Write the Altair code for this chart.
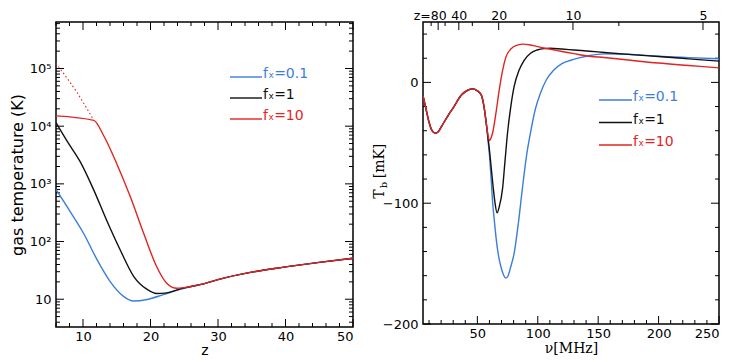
import altair as alt
import pandas as pd

# ---------------- data ----------------
# Left panel: gas temperature (K) versus redshift z
z_fx01 = [6.0, 8.1, 10.1, 12.1, 14.0, 16.0, 17.5, 19.5, 21.9, 24.4, 26.0, 28.0, 30.0, 35.0, 40.0, 45.0, 50.0]
T_fx01 = [800, 331, 138, 48, 20.4, 11.2, 9.3, 9.9, 12.0, 14.8, 16.6, 18.6, 21.9, 29.5, 36.3, 43.6, 51.3]
z_fx1 = [6.0, 7.6, 9.6, 11.6, 13.5, 15.5, 17.5, 19.5, 20.9, 22.4, 24.4, 26.0, 28.0, 30.0, 35.0, 40.0, 45.0, 50.0]
T_fx1 = [11500, 5600, 2400, 780, 234, 72, 25, 14.8, 12.6, 12.9, 15.1, 16.6, 18.6, 21.9, 29.5, 36.3, 43.6, 51.3]
z_fx10 = [6.0, 11.6, 13.05, 15.0, 17.0, 19.0, 20.9, 22.4, 23.9, 26.0, 28.0, 30.0, 35.0, 40.0, 45.0, 50.0]
T_fx10 = [15100, 12600, 6900, 2240, 603, 138, 37, 19, 15.5, 16.6, 18.6, 21.9, 29.5, 36.3, 43.6, 51.3]
z_fx10_dotted = [6.0, 7.6, 9.1, 10.6, 11.6]
T_fx10_dotted = [123000, 69000, 38900, 20000, 12600]

# Right panel: brightness temperature (mK) versus frequency (MHz)
nu_common = [5, 7.5, 10, 12.5, 15, 17.5, 20, 26, 30, 36.8, 42, 46.4, 50, 53.2, 55.5, 57.3]
Tb_common = [-11, -22, -33, -40, -42, -41, -37, -27, -21, -10.5, -6.5, -5.4, -7, -10.3, -20, -33.3]
nu_fx01 = nu_common + [58.7, 60, 61.4, 62.7, 64.1, 66, 67.8, 69.5, 71.5, 73.6, 75.5, 77.5, 80.4, 84, 87.3,
                       90.5, 94, 98, 102.2, 107, 113.1, 120, 126.7, 135, 143, 155, 175, 200, 225, 250]
Tb_fx01 = Tb_common + [-47, -60, -80, -100, -115, -133, -145, -152.6, -159, -162, -160, -153, -141.7, -116, -87.5,
                       -62, -41.5, -22, -8.9, 2, 10, 15.5, 18.1, 20.5, 22.3, 23.6, 23.3, 21.6, 20.5, 19.5]
nu_fx1 = nu_common + [58.7, 60, 61.4, 63, 64.5, 66.3, 68.1, 70.9, 72.8, 75, 77.7, 80.4, 84.5, 88.6, 94, 99.5,
                      105, 110.4, 120, 130, 143, 155, 175, 200, 225, 250]
Tb_fx1 = Tb_common + [-45, -56, -70, -86, -99, -108, -103, -87.5, -66, -41.5, -19.8, -3.5, 10, 18.1, 24.1, 26.8,
                      28, 28.3, 27.6, 26.8, 25.8, 24.8, 23.2, 21.4, 19.5, 17.6]
nu_fx10 = nu_common + [58.7, 60, 61.3, 62.7, 65.4, 68.1, 70.9, 73.6, 77.7, 83.2, 88, 93, 100, 105, 113, 120,
                       130, 143, 155, 175, 200, 225, 250]
Tb_fx10 = Tb_common + [-43, -48.2, -46, -41.5, -25.2, -6.2, 10, 20.9, 27.6, 30.9, 31.7, 31.2, 29.6, 28.5, 27, 25.6,
                       23.8, 21.7, 20.6, 18.5, 16, 14, 12]

series_labels = ["fₓ=0.1", "fₓ=1", "fₓ=10"]
series_colors = ["#3c7ddc", "#111111", "#e3231f"]

# axis ticks and labels
left_z_major = [10, 20, 30, 40, 50]
left_z_minor = [6, 8, 12, 14, 16, 18, 22, 24, 26, 28, 32, 34, 36, 38, 42, 44, 46, 48]
left_T_major = [10, 100, 1000, 10000, 100000]
left_T_texts = ["10", "10²", "10³", "10⁴", "10⁵"]
left_T_minor = [4, 5, 6, 7, 8, 9, 20, 30, 40, 50, 60, 70, 80, 90, 200, 300, 400, 500, 600, 700, 800, 900,
                2000, 3000, 4000, 5000, 6000, 7000, 8000, 9000, 20000, 30000, 40000, 50000, 60000,
                70000, 80000, 90000, 200000, 300000, 400000, 500000, 600000]
right_nu_major = [50, 100, 150, 200, 250]
right_nu_minor = [10, 20, 30, 40, 60, 70, 80, 90, 110, 120, 130, 140, 160, 170, 180, 190,
                  210, 220, 230, 240]
right_Tb_major = [0, -100, -200]
right_Tb_minor = [-180, -160, -140, -120, -80, -60, -40, -20, 20, 40]
top_z_major = [80, 40, 20, 10, 5]
top_z_minor = [120, 60, 30, 15, 7.5]
NU21 = 1420.4  # MHz, nu = NU21 / (1 + z)

# ---------------- layout ----------------
WL, HL = 297, 305
WR, HR = 296, 302
FONT = "DejaVu Sans"
SERIF = "DejaVu Serif"
MAJ, MIN = 8, 4


def xticks(values, xs, H, size, top=False):
    df = pd.DataFrame({"v": values})
    y0 = 0 if top else H
    y1 = size if top else H - size
    return alt.Chart(df).mark_rule(color="black", strokeWidth=1).encode(
        x=alt.X("v:Q", scale=xs, axis=None), y=alt.value(y0), y2=alt.value(y1))


def yticks(values, ys, W, size, right=False):
    df = pd.DataFrame({"v": values})
    x0 = W if right else 0
    x1 = W - size if right else size
    return alt.Chart(df).mark_rule(color="black", strokeWidth=1).encode(
        y=alt.Y("v:Q", scale=ys, axis=None), x=alt.value(x0), x2=alt.value(x1))


def line(x, y, color, xs, ys, dash=None, width=1.4):
    df = pd.DataFrame({"x": x, "y": y})
    kw = dict(color=color, strokeWidth=width, clip=True, interpolate="monotone")
    if dash:
        kw["strokeDash"] = dash
        kw["interpolate"] = "linear"
    return alt.Chart(df).mark_line(**kw).encode(
        x=alt.X("x:Q", scale=xs, axis=None),
        y=alt.Y("y:Q", scale=ys, axis=None),
    )


def legend(x0, x1, y0, dy):
    out = []
    for i, (lab, col) in enumerate(zip(series_labels, series_colors)):
        one = pd.DataFrame({"k": [0]})
        out.append(alt.Chart(one).mark_rule(color=col, strokeWidth=1.4).encode(
            x=alt.value(x0), x2=alt.value(x1), y=alt.value(y0 + i * dy)))
        out.append(alt.Chart(one).mark_text(text=lab, color=col, align="left", baseline="alphabetic",
                                            font=FONT, fontSize=14).encode(
            x=alt.value(x1 + 1), y=alt.value(y0 + i * dy + 1)))
    return out


# ---------------- left panel ----------------
xsL = alt.Scale(domain=[6, 50], nice=False, zero=False)
ysL = alt.Scale(type="log", domain=[3.3, 640000], nice=False)
dfL = pd.DataFrame({"x": z_fx01, "y": T_fx01})

log_expr = " : ".join(f"datum.value == {v} ? '{t}'" for v, t in zip(left_T_major, left_T_texts)) + " : ''"

left_label_layer = alt.Chart(dfL).mark_line(strokeOpacity=0).encode(
    x=alt.X("x:Q", scale=xsL, title="z",
            axis=alt.Axis(orient="bottom", values=left_z_major, ticks=False, labelPadding=3,
                          titlePadding=0, titleFontSize=14)),
    y=alt.Y("y:Q", scale=ysL, title="gas temperature (K)",
            axis=alt.Axis(orient="left", values=left_T_major, ticks=False, labelPadding=5,
                          labelExpr=log_expr, titlePadding=4, titleFontSize=16)),
)

left = alt.layer(
    left_label_layer,
    xticks(left_z_minor, xsL, HL, MIN), xticks(left_z_major, xsL, HL, MAJ),
    xticks(left_z_minor, xsL, HL, MIN, top=True), xticks(left_z_major, xsL, HL, MAJ, top=True),
    yticks(left_T_minor, ysL, WL, MIN), yticks(left_T_major, ysL, WL, MAJ),
    yticks(left_T_minor, ysL, WL, MIN, right=True), yticks(left_T_major, ysL, WL, MAJ, right=True),
    line(z_fx01, T_fx01, series_colors[0], xsL, ysL),
    line(z_fx1, T_fx1, series_colors[1], xsL, ysL),
    line(z_fx10_dotted, T_fx10_dotted, series_colors[2], xsL, ysL, dash=[1.5, 2.5], width=1.1),
    line(z_fx10, T_fx10, series_colors[2], xsL, ysL),
    *legend(174, 206, 55, 21),
).resolve_axis(x="independent", y="independent").properties(
    width=WL, height=HL, title=alt.TitleParams(text=" ", fontSize=1, offset=5)
)

# ---------------- right panel ----------------
xsR = alt.Scale(domain=[5, 250], nice=False, zero=False)
ysR = alt.Scale(domain=[-200, 50], nice=False, zero=False)
dfR = pd.DataFrame({"x": nu_fx01, "y": Tb_fx01})

top_z_major_pos = [NU21 / (1 + z) for z in top_z_major]
top_z_minor_pos = [NU21 / (1 + z) for z in top_z_minor]
z_of = f"round({NU21}/datum.value - 1)"

right_label_layer = alt.Chart(dfR).mark_line(strokeOpacity=0).encode(
    x=alt.X("x:Q", scale=xsR, title="ν[MHz]",
            axis=alt.Axis(orient="bottom", values=right_nu_major, ticks=False, labelPadding=3,
                          titlePadding=1, titleFont=SERIF, titleFontSize=14)),
    y=alt.Y("y:Q", scale=ysR, title=None,
            axis=alt.Axis(orient="left", values=right_Tb_major, ticks=False, labelPadding=5)),
)
right_top_labels = alt.Chart(dfR).mark_line(strokeOpacity=0).encode(
    x=alt.X("x:Q", scale=xsR, title=None,
            axis=alt.Axis(orient="top", values=top_z_major_pos, ticks=False, labelPadding=0,
                          labelFontSize=12.5,
                          labelExpr=f"({z_of} == 80 ? 'z=' : '') + {z_of}",
                          labelAlign={"condition": {"test": f"{z_of} == 80", "value": "right"}, "value": "center"},
                          labelOffset={"condition": {"test": f"{z_of} == 80", "value": 8}, "value": 0})),
    y=alt.Y("y:Q", scale=ysR, axis=None),
)

one = pd.DataFrame({"k": [0]})
ytitle = [
    alt.Chart(one).mark_text(text="T", angle=270, align="center", baseline="middle", font=SERIF,
                             fontSize=14).encode(x=alt.value(-43), y=alt.value(172)),
    alt.Chart(one).mark_text(text="b", angle=270, align="center", baseline="middle", font=SERIF,
                             fontSize=10).encode(x=alt.value(-39), y=alt.value(163)),
    alt.Chart(one).mark_text(text="[mK]", angle=270, align="center", baseline="middle", font=SERIF,
                             fontSize=14).encode(x=alt.value(-43), y=alt.value(139)),
]

right = alt.layer(
    right_label_layer, right_top_labels,
    xticks(right_nu_minor, xsR, HR, MIN), xticks(right_nu_major, xsR, HR, MAJ),
    xticks(top_z_minor_pos, xsR, HR, MIN, top=True), xticks(top_z_major_pos, xsR, HR, MAJ, top=True),
    yticks(right_Tb_minor, ysR, WR, MIN), yticks(right_Tb_major, ysR, WR, MAJ),
    yticks(right_Tb_minor, ysR, WR, MIN, right=True), yticks(right_Tb_major, ysR, WR, MAJ, right=True),
    line(nu_fx01, Tb_fx01, series_colors[0], xsR, ysR),
    line(nu_fx1, Tb_fx1, series_colors[1], xsR, ysR),
    line(nu_fx10, Tb_fx10, series_colors[2], xsR, ysR),
    *ytitle,
    *legend(176, 209, 78, 22.5),
).resolve_axis(x="independent", y="independent").properties(width=WR, height=HR)

chart = alt.hconcat(left, right, spacing=17, bounds="full").properties(
    padding={"left": 0, "top": 0, "right": 0, "bottom": 0}
).configure_view(stroke="black", strokeWidth=1.5).configure_axis(
    labelFont=FONT, titleFont=FONT, labelFontSize=13, labelColor="black", titleColor="black",
    titleFontWeight="normal", grid=False, domain=False,
)

chart.save("out.html", embed_options={"renderer": "svg", "actions": False})
